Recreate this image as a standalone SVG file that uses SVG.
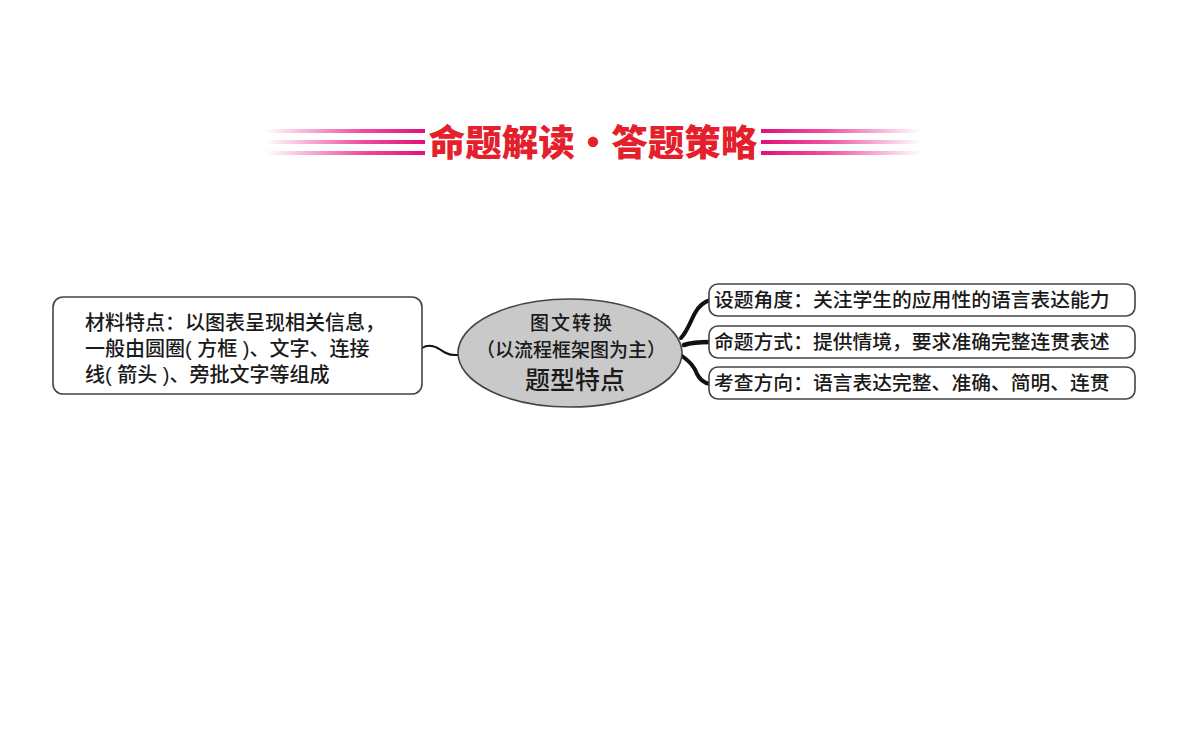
<svg xmlns="http://www.w3.org/2000/svg" width="1200" height="748" viewBox="0 0 1200 748">
<defs>
<linearGradient id="gl" x1="0" x2="1" y1="0" y2="0">
<stop offset="0" stop-color="#e8157f" stop-opacity="0"/>
<stop offset="0.6" stop-color="#e8157f" stop-opacity="0.75"/>
<stop offset="1" stop-color="#e0107a"/>
</linearGradient>
<linearGradient id="gr" x1="1" x2="0" y1="0" y2="0">
<stop offset="0" stop-color="#e8157f" stop-opacity="0"/>
<stop offset="0.6" stop-color="#e8157f" stop-opacity="0.75"/>
<stop offset="1" stop-color="#e0107a"/>
</linearGradient>
</defs>
<style>
.t{font-family:"Liberation Sans","Noto Sans CJK SC",sans-serif;fill:#1a1a1a;font-weight:500}
.box{fill:#fff;stroke:#444;stroke-width:1.6}
.con{fill:none;stroke:#111;stroke-linecap:round}
</style>
<rect width="1200" height="748" fill="#fff"/>
<g id="title">
<rect x="265" y="129" width="160" height="4" fill="url(#gl)"/>
<rect x="265" y="140" width="160" height="4" fill="url(#gl)"/>
<rect x="265" y="151" width="160" height="4" fill="url(#gl)"/>
<rect x="761" y="129" width="160" height="4" fill="url(#gr)"/>
<rect x="761" y="140" width="160" height="4" fill="url(#gr)"/>
<rect x="761" y="151" width="160" height="4" fill="url(#gr)"/>
<text x="593" y="156" text-anchor="middle" font-family="'Noto Sans CJK SC',sans-serif" font-weight="900" font-size="36.5" fill="#e3202c">命题解读·答题策略</text>
</g>
<g id="connectors">
<path class="con" stroke-width="2" d="M422,348 C432,342 440,350 446,353 C452,356 455,355 459,355"/>
<path class="con" stroke-width="4" d="M681,338 C688,330 690,322 695,313 C699,306 703,302 710,300"/>
<path class="con" stroke-width="4.5" d="M684,345 C693,342 700,342 710,342"/>
<path class="con" stroke-width="4" d="M682,356 C690,362 694,366 697,374 C700,380 704,383 710,384"/>
</g>
<g id="materials">
<rect class="box" x="53" y="297" width="369" height="97" rx="10"/>
<text class="t" font-size="20" x="85" y="330">材料特点：以图表呈现相关信息，</text>
<text class="t" font-size="20" x="85" y="356">一般由圆圈( 方框 )、文字、连接</text>
<text class="t" font-size="20" x="85" y="382">线( 箭头 )、旁批文字等组成</text>
</g>
<g id="center">
<ellipse cx="570" cy="353" rx="112" ry="54" fill="#c9c9c9" stroke="#444" stroke-width="1.6"/>
<text class="t" font-size="19" x="572" y="330" text-anchor="middle" letter-spacing="2">图文转换</text>
<text class="t" font-size="19" x="571" y="357" text-anchor="middle">（以流程框架图为主）</text>
<text class="t" font-size="25" x="575" y="389" text-anchor="middle">题型特点</text>
</g>
<g id="angle">
<rect class="box" x="709" y="284" width="426" height="32" rx="9"/>
<text class="t" font-size="19.8" x="714" y="307">设题角度：关注学生的应用性的语言表达能力</text>
</g>
<g id="method">
<rect class="box" x="709" y="326" width="426" height="32" rx="9"/>
<text class="t" font-size="19.8" x="714" y="349">命题方式：提供情境，要求准确完整连贯表述</text>
</g>
<g id="direction">
<rect class="box" x="709" y="367" width="426" height="32" rx="9"/>
<text class="t" font-size="19.8" x="714" y="390">考查方向：语言表达完整、准确、简明、连贯</text>
</g>
</svg>
